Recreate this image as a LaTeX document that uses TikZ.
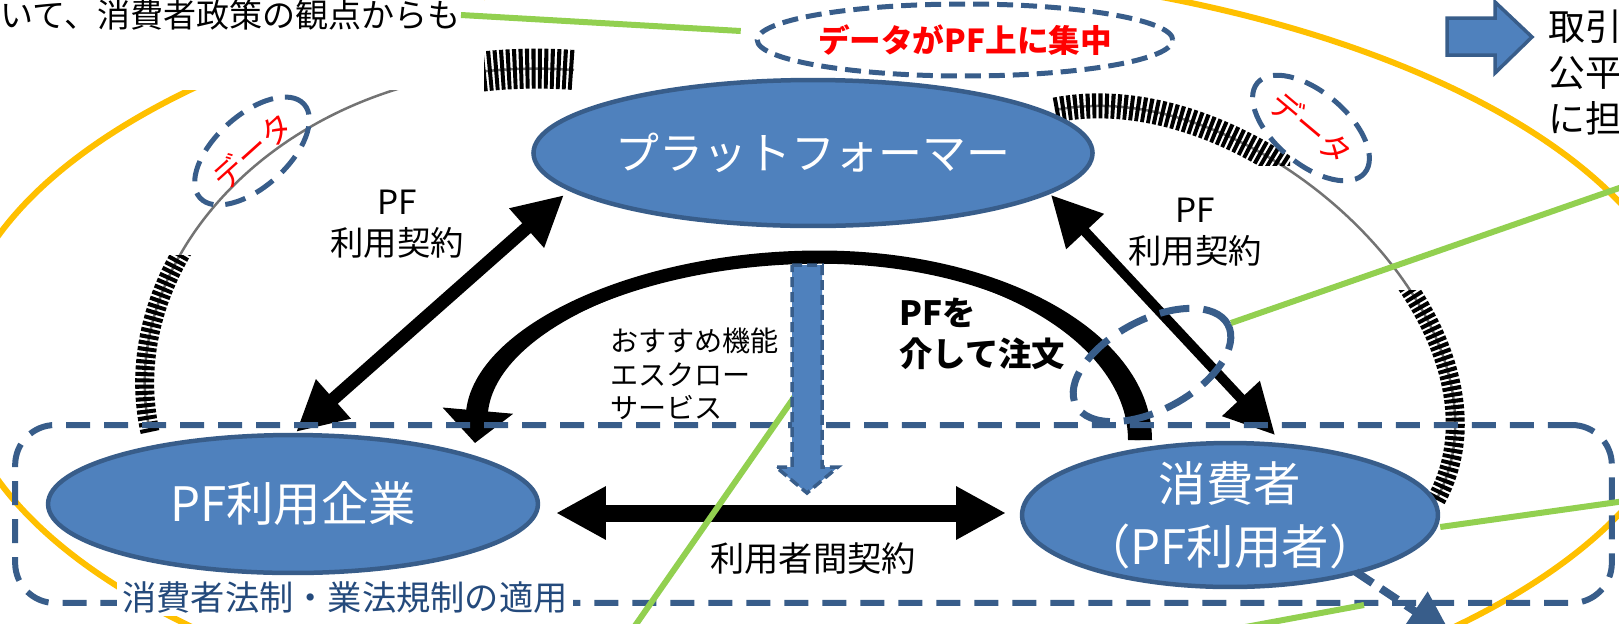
\documentclass[tikz,border=0pt]{standalone}
\usepackage{fontspec}
\setmainfont{Noto Sans CJK JP}
\usepackage{xcolor}
\usetikzlibrary{shapes.geometric, arrows.meta, calc, backgrounds}

\definecolor{pfblue}{HTML}{4F81BD}
\definecolor{pfedge}{HTML}{385D8A}
\definecolor{callgreen}{HTML}{92D050}
\definecolor{zoneorange}{HTML}{FFC000}
\definecolor{lawblue}{HTML}{244A7C}

\begin{document}
\begin{tikzpicture}[
    x=0.02cm, y=-0.02cm,
    party/.style={ellipse, draw=pfedge, fill=pfblue, line width=0.09cm, text=white, inner sep=0pt, align=center, font=\fontsize{27}{36}\selectfont},
    note/.style={align=center, inner sep=0pt, font=\fontsize{19}{23}\selectfont},
    hubtag/.style={ellipse, draw=pfedge, line width=0.1cm, dash pattern=on 0.32cm off 0.16cm, text=red, inner sep=0pt, minimum width=6.84cm, minimum height=1.44cm, font=\bfseries\fontsize{18}{20}\selectfont},
    datatag/.style={ellipse, draw=pfedge, line width=0.1cm, dash pattern=on 0.42cm off 0.24cm, text=red, inner sep=0pt, minimum width=2.8cm, minimum height=1.44cm, font=\fontsize{18}{20}\selectfont},
    ring/.style={ellipse, draw=pfedge, line width=0.14cm, dash pattern=on 0.6cm off 0.28cm, inner sep=0pt, minimum width=3.44cm, minimum height=1.8cm},
    zone/.style={rectangle, draw=pfedge, line width=0.12cm, dash pattern=on 0.48cm off 0.28cm, rounded corners=0.8cm, inner sep=0pt},
    contract/.style={{Triangle[length=1cm,width=0.98cm]}-{Triangle[length=1cm,width=0.98cm]}, line width=0.26cm},
    order/.style={-{Triangle[length=0.65cm,width=1.38cm]}, line width=0.22cm},
    greenline/.style={draw=callgreen, line width=0.12cm},
    blockarrow/.style={fill=pfblue, draw=pfedge, line width=0.07cm, line join=miter},
    dataflow/.style={line width=0.05cm, black!55},
    hatch/.style={line width=0.38cm, dash pattern=on 0.08cm off 0.045cm}
]
\useasboundingbox (0,0) rectangle (1619,623);
\clip (0,0) rectangle (1619,623);

% Parties
\node[party, minimum width=9.88cm, minimum height=2.92cm, font=\fontsize{25}{30}\selectfont] (platform) at (813,153) {プラットフォーマー};
\node[party, minimum width=9.8cm, minimum height=2.76cm] (company) at (293,504) {PF利用企業};
\node[party, minimum width=8.32cm, minimum height=2.88cm, inner ysep=-4pt] (consumer) at (1230,515) {消費者\\（PF利用者）};

% Orange zone and data flows behind
\begin{pgfonlayer}{background}
\draw[zoneorange, line width=0.12cm] (823,358) ellipse [x radius=17.36cm, y radius=7.84cm];
% left data flow
\draw[dataflow] ($(company.center)+(-143,-72)$) .. controls +(-40,-182) and +(-274,-20) .. ($(platform.center)+(-239,-83)$);
\begin{scope}
  \clip (0,255) rectangle (420,623);
  \draw[hatch] ($(company.center)+(-143,-72)$) .. controls +(-40,-182) and +(-274,-20) .. ($(platform.center)+(-239,-83)$);
\end{scope}
\begin{scope}
  \clip (484,0) rectangle (640,92);
  \draw[hatch, line width=0.8cm] ($(company.center)+(-143,-72)$) .. controls +(-40,-182) and +(-274,-20) .. ($(platform.center)+(-239,-83)$);
\end{scope}
% right data flow
\draw[dataflow] ($(platform.center)+(242,-43)$) .. controls +(205,-40) and +(94,-170) .. ($(consumer.center)+(206,-15)$);
\begin{scope}
  \clip (1000,60) rectangle (1290,165);
  \draw[hatch, line width=0.5cm] ($(platform.center)+(242,-43)$) .. controls +(205,-40) and +(94,-170) .. ($(consumer.center)+(206,-15)$);
\end{scope}
\begin{scope}
  \clip (1380,290) rectangle (1619,623);
  \draw[hatch] ($(platform.center)+(242,-43)$) .. controls +(205,-40) and +(94,-170) .. ($(consumer.center)+(206,-15)$);
\end{scope}
\end{pgfonlayer}

% Lead texts
\fill[white] (0,0) rectangle (484,90);
\node[anchor=east, inner sep=0pt, font=\fontsize{18.8}{22}\selectfont] (lead) at (461,15) {いて、消費者政策の観点からも};
\node[anchor=north west, align=left, inner sep=0pt, font=\fontsize{21}{26}\selectfont] (remedy) at (1548,10) {取引\\公平\\に担};
\draw[blockarrow] (1447,18) -- (1495,18) -- (1495,2) -- (1532,37) -- (1495,73) -- (1495,55) -- (1447,55) -- cycle;

% Data on PF
\node[hubtag] (pfdata) at (965,40) {データがPF上に集中};
\node[datatag, rotate=42] (dataL) at (252,151) {データ};
\node[datatag, rotate=-40] (dataR) at (1311,128) {データ};

% Contracts
\draw[contract] ($(company.center)+(3,-72)$) -- ($(platform.center)+(-249,42)$);
\draw[contract, line width=0.2cm] ($(platform.center)+(238,42)$) -- ($(consumer.center)+(45,-80)$);
\draw[{Triangle[length=1cm,width=1cm]}-{Triangle[length=1cm,width=1cm]}, line width=0.34cm] ($(company.center)+(263,9)$) -- ($(consumer.center)+(-224,-2)$);

\node[note] (pfuseL) at (397,224) {PF\\利用契約};
\node[note] (pfuseR) at (1195,232) {PF\\利用契約};
\node[note, font=\fontsize{19.5}{23}\selectfont] (between) at (813,559) {利用者間契約};

% Order via PF, with a shaft that widens towards both ends
\coordinate (apex) at ($(platform.south)+(7,30)$);
\draw[order] ($(consumer.center)+(-90,-75)$) .. controls +(0,-100) and +(180,0) .. (apex) .. controls +(-180,0) and +(10,-113) .. ($(company.center)+(182,-61)$);
\fill (1152,440) .. controls (1152,334) and (1004,250.5) .. (820,250.5) .. controls (636,250.5) and (474,326) .. (466,412)
  -- (488,412) .. controls (496,334) and (644,261.5) .. (820,261.5) .. controls (996,261.5) and (1128,346) .. (1128,440) -- cycle;
\node[note, align=left, anchor=west, font=\bfseries\fontsize{19}{23}\selectfont] (viapf) at (899,334) {PFを\\介して注文};
\node[note, align=left, anchor=west, font=\fontsize{16}{19}\selectfont] (services) at (610,374) {おすすめ機能\\エスクロー\\サービス};

% Zone of consumer law
\node[zone, minimum width=31.94cm, minimum height=3.56cm] (lawzone) at (813.5,514) {};
\node[fill=white, text=lawblue, inner xsep=3pt, inner ysep=1pt, font=\fontsize{19.5}{22}\selectfont] (lawtext) at (345,598) {消費者法制・業法規制の適用};

% Ring at the crossing
\node[ring, rotate=28] (orderring) at (1152,365) {};

% Green callouts
\draw[greenline] (lead.east) -- ($(pfdata.west)+(-14,-9)$);
\coordinate (edgeA) at (1625,186);
\draw[greenline] (orderring.east) -- (edgeA);
\coordinate (edgeB) at (1625,501);
\draw[greenline] ($(consumer.east)+(0,12)$) -- (edgeB);
\coordinate (lowA) at (1240,628);
\coordinate (lowB) at (1364,605);
\draw[greenline] (lowA) -- (lowB);
\coordinate (lowC) at (630,633);
\coordinate (pushL) at (795,396);
\draw[greenline] (lowC) -- (pushL);

% Recommendation push arrow
\draw[blockarrow, dash pattern=on 0.2cm off 0.1cm] (792,265) -- (822,265) -- (822,467) -- (838,467) -- (807,493) -- (776,467) -- (792,467) -- cycle;

% Consumer outflow
\draw[pfedge, line width=0.16cm, dash pattern=on 0.4cm off 0.2cm, -{Triangle[length=0.9cm,width=0.9cm]}] ($(consumer.center)+(126,57)$) -- (1452,636);

\end{tikzpicture}
\end{document}
